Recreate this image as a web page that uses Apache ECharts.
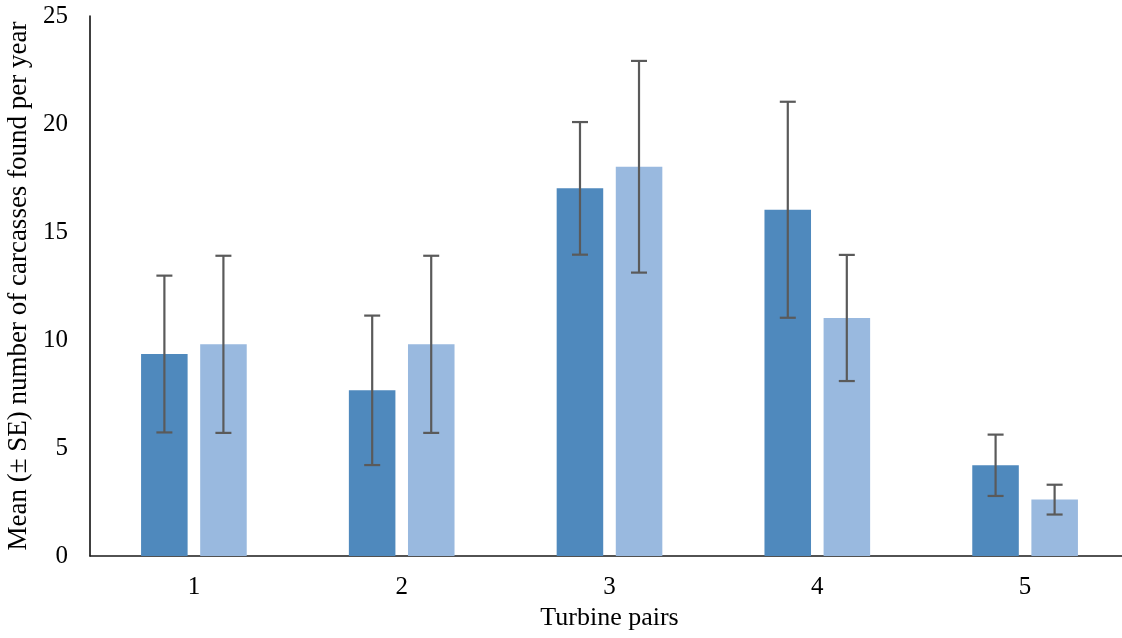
<!DOCTYPE html>
<html>
<head>
<meta charset="utf-8">
<title>Carcasses per turbine pair</title>
<script src="https://cdn.jsdelivr.net/npm/echarts@6/dist/echarts.min.js"></script>
<style>
  html, body { margin: 0; padding: 0; background: #ffffff; }
  #chart { width: 1122px; height: 638px; }
</style>
</head>
<body>
<div id="chart"></div>
<script>
// Turbine pairs on the x axis
const categories = ['1', '2', '3', '4', '5'];
// Mean carcasses found per year, first and second turbine of each pair
const meanFirst = [9.35, 7.67, 17.02, 16.03, 4.2];
const meanSecond = [9.8, 9.8, 18.02, 11.02, 2.61];
// Standard errors
const seFirst = [3.63, 3.46, 3.07, 5.0, 1.42];
const seSecond = [4.1, 4.1, 4.9, 2.92, 0.69];
// Y axis ticks
const yTicks = [0, 5, 10, 15, 20, 25];

const darkBlue = '#4f89bd';
const lightBlue = '#99b9df';
const errColor = '#5a5a5a';
const serif = '"Liberation Serif", "Times New Roman", serif';

// bar geometry as a share of one category band
const barShare = 0.224;
const gapShare = 0.06;
const centerShift = (barShare + gapShare) / 2;

function errorData(means, ses) {
  return means.map((m, i) => [i, m - ses[i], m + ses[i]]);
}

function errorSeries(name, means, ses, side) {
  return {
    name: name,
    type: 'custom',
    z: 5,
    silent: true,
    data: errorData(means, ses),
    encode: { x: 0, y: [1, 2] },
    renderItem: function (params, api) {
      const idx = api.value(0);
      const lowPt = api.coord([idx, api.value(1)]);
      const highPt = api.coord([idx, api.value(2)]);
      const band = api.size([1, 0])[0];
      const x = lowPt[0] + side * band * centerShift;
      const cap = 8;
      const style = { stroke: errColor, lineWidth: 2.2, fill: null };
      return {
        type: 'group',
        children: [
          { type: 'line', shape: { x1: x, y1: highPt[1], x2: x, y2: lowPt[1] }, style: style },
          { type: 'line', shape: { x1: x - cap, y1: highPt[1], x2: x + cap, y2: highPt[1] }, style: style },
          { type: 'line', shape: { x1: x - cap, y1: lowPt[1], x2: x + cap, y2: lowPt[1] }, style: style }
        ]
      };
    }
  };
}

const chart = echarts.init(document.getElementById('chart'), null, { renderer: 'canvas' });

chart.setOption({
  animation: false,
  backgroundColor: '#ffffff',
  grid: {
    left: 90, right: -7, top: 16, bottom: 82,
    containLabel: false,
    outerBoundsMode: 'none'
  },
  xAxis: {
    type: 'category',
    data: categories,
    name: 'Turbine pairs',
    nameLocation: 'middle',
    nameGap: 49,
    nameTextStyle: { fontFamily: serif, fontSize: 26, color: '#000' },
    axisLine: { show: true, lineStyle: { color: '#1a1a1a', width: 1.5 } },
    axisTick: { show: false },
    axisLabel: { fontFamily: serif, fontSize: 25, color: '#000', margin: 19 },
    splitLine: { show: false }
  },
  yAxis: {
    type: 'value',
    min: yTicks[0],
    max: yTicks[yTicks.length - 1],
    interval: yTicks[1] - yTicks[0],
    name: 'Mean (± SE) number of carcasses found per year',
    nameLocation: 'middle',
    nameGap: 55,
    nameTextStyle: { fontFamily: serif, fontSize: 27, color: '#000' },
    axisLine: { show: true, lineStyle: { color: '#000', width: 1.5 } },
    axisTick: { show: false },
    axisLabel: { fontFamily: serif, fontSize: 25, color: '#000', margin: 22 },
    splitLine: { show: false }
  },
  series: [
    {
      name: 'First turbine',
      type: 'bar',
      data: meanFirst,
      barWidth: (barShare * 100) + '%',
      barGap: Math.round(gapShare / barShare * 100) + '%',
      itemStyle: { color: darkBlue }
    },
    {
      name: 'Second turbine',
      type: 'bar',
      data: meanSecond,
      barWidth: (barShare * 100) + '%',
      itemStyle: { color: lightBlue }
    },
    errorSeries('First turbine SE', meanFirst, seFirst, -1),
    errorSeries('Second turbine SE', meanSecond, seSecond, 1)
  ]
});
</script>
</body>
</html>
